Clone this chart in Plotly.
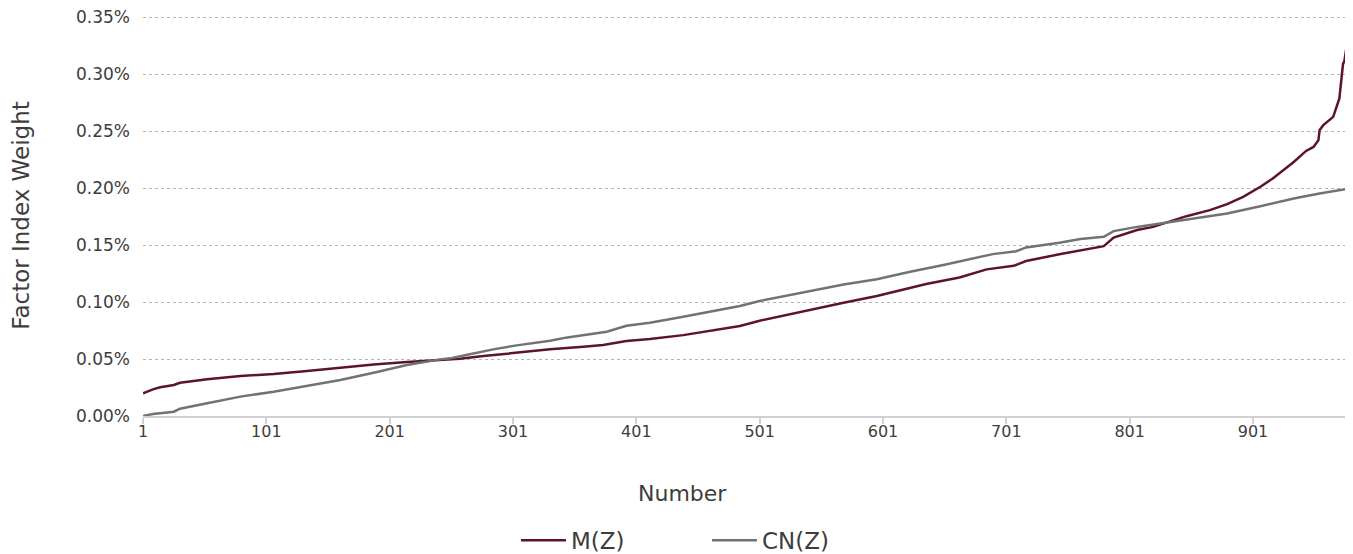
import plotly.graph_objects as go

# Data (weights in %)
m_x = [1, 9, 15, 26, 31, 53, 80, 107, 134, 161, 188, 215, 242, 258, 277, 304, 331, 358, 374,
       393, 412, 439, 466, 485, 501, 528, 542, 569, 596, 615, 636, 663, 685, 707, 717, 744,
       761, 780, 788, 807, 820, 831, 847, 866, 880, 893, 907, 917, 924, 934, 944, 950, 954,
       955, 958, 966, 971, 974, 975, 978]
m_y = [0.0200, 0.0234, 0.0252, 0.0272, 0.0292, 0.0322, 0.0351, 0.0368, 0.0395, 0.0424, 0.0453,
       0.0474, 0.0491, 0.0503, 0.0526, 0.0556, 0.0585, 0.0608, 0.0623, 0.0658, 0.0675, 0.0710,
       0.0754, 0.0790, 0.0836, 0.0900, 0.0936, 0.0994, 0.1053, 0.1105, 0.1158, 0.1216, 0.1287,
       0.1318, 0.1360, 0.1420, 0.1455, 0.1491, 0.1567, 0.1632, 0.1660, 0.1696, 0.1754, 0.1807,
       0.1860, 0.1924, 0.2012, 0.2085, 0.2143, 0.2230, 0.2327, 0.2362, 0.2420, 0.2510, 0.2553,
       0.2626, 0.2787, 0.3094, 0.3110, 0.3327]

cn_x = [1, 9, 26, 31, 53, 80, 107, 134, 161, 188, 215, 242, 250, 263, 285, 304, 331, 345, 377,
        393, 412, 439, 466, 485, 501, 528, 542, 569, 596, 623, 650, 669, 690, 709, 717, 744,
        761, 780, 788, 807, 826, 853, 880, 907, 934, 955, 978]
cn_y = [0.0000, 0.0018, 0.0038, 0.0064, 0.0111, 0.0170, 0.0213, 0.0263, 0.0316, 0.0380, 0.0447,
        0.0497, 0.0506, 0.0535, 0.0585, 0.0620, 0.0660, 0.0690, 0.0740, 0.0792, 0.0819, 0.0871,
        0.0930, 0.0965, 0.1009, 0.1067, 0.1100, 0.1155, 0.1200, 0.1266, 0.1325, 0.1368, 0.1421,
        0.1447, 0.1480, 0.1521, 0.1553, 0.1573, 0.1623, 0.1660, 0.1690, 0.1734, 0.1778, 0.1842,
        0.1910, 0.1954, 0.1995]

x_ticks = [1, 101, 201, 301, 401, 501, 601, 701, 801, 901]
y_ticks = [0.00, 0.05, 0.10, 0.15, 0.20, 0.25, 0.30, 0.35]

FONT = "DejaVu Sans"
TXT = "#3d3d3d"

fig = go.Figure()
fig.add_trace(go.Scatter(x=m_x, y=m_y, mode="lines", name="M(Z)",
                         line=dict(color="#5e1232", width=2.5)))
fig.add_trace(go.Scatter(x=cn_x, y=cn_y, mode="lines", name="CN(Z)",
                         line=dict(color="#717274", width=2.5)))

fig.update_layout(
    width=1345, height=546,
    margin=dict(l=135, r=5, t=6.7, b=138, autoexpand=False),
    paper_bgcolor="white", plot_bgcolor="white",
    font=dict(family=FONT, color=TXT, size=16),
    showlegend=True,
    legend=dict(orientation="h", x=0.3095, xanchor="left", y=-0.31, yanchor="middle",
                font=dict(size=23, color=TXT), itemwidth=45, entrywidth=131,
                entrywidthmode="pixels"),
    xaxis=dict(
        range=[1, 978], tickvals=x_ticks, ticktext=[str(v) for v in x_ticks],
        showgrid=False, zeroline=False, automargin=False,
        showline=True, linecolor="#d0d0d0", linewidth=2,
        ticks="outside", ticklen=6, tickcolor="#d0d0d0", tickwidth=2,
        tickfont=dict(size=16, color=TXT), ticklabelstandoff=-6,
    ),
    yaxis=dict(
        range=[0, 0.352], tickvals=y_ticks,
        ticktext=[f"{v:.2f}%" for v in y_ticks],
        showgrid=True, gridcolor="#b5b5b5", griddash="dot", gridwidth=1,
        zeroline=False, showline=False, automargin=False,
        ticklabeloverflow="allow",
        tickfont=dict(size=17, color=TXT), ticklabelstandoff=12,
        title=dict(text="Factor Index Weight", font=dict(size=23, color=TXT), standoff=40),
    ),
    annotations=[dict(text="Number", xref="paper", yref="paper", x=0.448, y=-0.193,
                      xanchor="center", yanchor="middle", showarrow=False,
                      font=dict(size=22, color=TXT))],
)

fig.write_html("out.html")
